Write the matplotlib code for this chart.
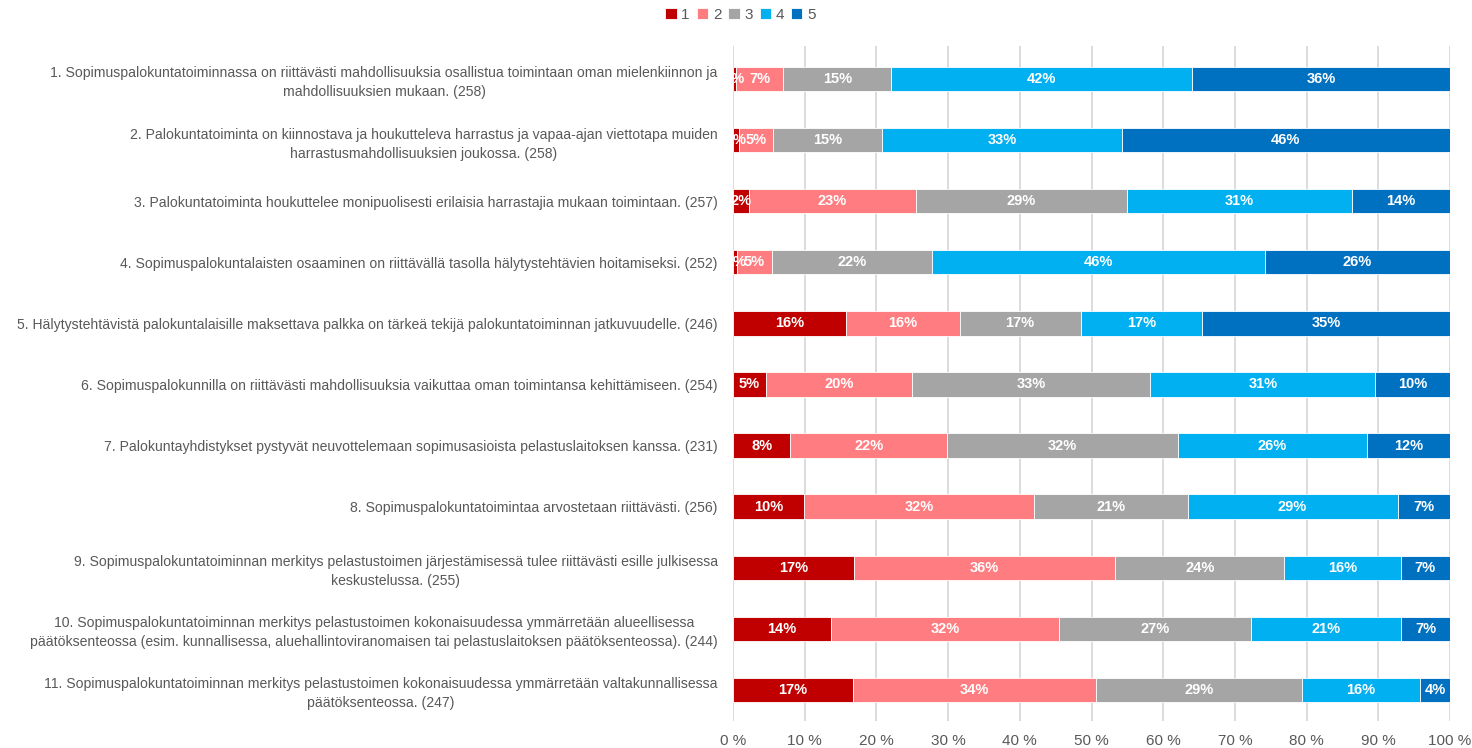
import matplotlib
matplotlib.use("Agg")
import matplotlib.pyplot as plt
import numpy as np

FONT = "Liberation Sans"

categories = [
    "1. Sopimuspalokuntatoiminnassa on riittävästi mahdollisuuksia osallistua toimintaan oman mielenkiinnon ja\nmahdollisuuksien mukaan. (258)",
    "2. Palokuntatoiminta on kiinnostava ja houkutteleva harrastus ja vapaa-ajan viettotapa muiden\nharrastusmahdollisuuksien joukossa. (258)",
    "3. Palokuntatoiminta houkuttelee monipuolisesti erilaisia harrastajia mukaan toimintaan. (257)",
    "4. Sopimuspalokuntalaisten osaaminen on riittävällä tasolla hälytystehtävien hoitamiseksi. (252)",
    "5. Hälytystehtävistä palokuntalaisille maksettava palkka on tärkeä tekijä palokuntatoiminnan jatkuvuudelle. (246)",
    "6. Sopimuspalokunnilla on riittävästi mahdollisuuksia vaikuttaa oman toimintansa kehittämiseen. (254)",
    "7. Palokuntayhdistykset pystyvät neuvottelemaan sopimusasioista pelastuslaitoksen kanssa. (231)",
    "8. Sopimuspalokuntatoimintaa arvostetaan riittävästi. (256)",
    "9. Sopimuspalokuntatoiminnan merkitys pelastustoimen järjestämisessä tulee riittävästi esille julkisessa\nkeskustelussa. (255)",
    "10. Sopimuspalokuntatoiminnan merkitys pelastustoimen kokonaisuudessa ymmärretään alueellisessa\npäätöksenteossa (esim. kunnallisessa, aluehallintoviranomaisen tai pelastuslaitoksen päätöksenteossa). (244)",
    "11. Sopimuspalokuntatoiminnan merkitys pelastustoimen kokonaisuudessa ymmärretään valtakunnallisessa\npäätöksenteossa. (247)",
]

series_names = ["1", "2", "3", "4", "5"]
s1 = [0.4, 0.8, 2.2, 0.6, 15.7, 4.6, 8.0, 9.9, 16.9, 13.7, 16.7]
s2 = [6.6, 4.8, 23.3, 4.8, 15.9, 20.4, 21.9, 32.1, 36.4, 31.7, 33.9]
s3 = [15.1, 15.2, 29.4, 22.4, 16.9, 33.2, 32.1, 21.4, 23.6, 26.9, 28.8]
s4 = [41.9, 33.4, 31.4, 46.4, 16.9, 31.4, 26.4, 29.3, 16.2, 20.9, 16.4]
s5 = [36.0, 45.8, 13.7, 25.8, 34.6, 10.4, 11.6, 7.3, 6.9, 6.8, 4.2]
series = [s1, s2, s3, s4, s5]
colors = ["#C00000", "#FF7C80", "#A5A5A5", "#00B0F0", "#0070C0"]
xticks = [0, 10, 20, 30, 40, 50, 60, 70, 80, 90, 100]

fig = plt.figure(figsize=(14.72, 7.48), dpi=100)
ax = fig.add_axes([733 / 1472, 1 - 720.5 / 748, (1450 - 733) / 1472, (720.5 - 46) / 748])

y = np.arange(len(categories))
left = np.zeros(len(categories))
handles = []
for name, vals, col in zip(series_names, series, colors):
    vals = np.array(vals)
    h = ax.barh(y, vals, left=left, height=0.4, color=col, edgecolor="white",
                linewidth=0.6, label=name, zorder=3)
    handles.append(h)
    for yi, (l, v) in enumerate(zip(left, vals)):
        ax.text(l + v / 2, yi, f"{int(round(v))}%", ha="center", va="center",
                color="white", fontsize=10.5, fontweight="bold",
                family=FONT, zorder=5)
    left = left + vals

ax.set_xlim(0, 100)
ax.set_ylim(len(categories) - 0.5, -0.54)
ax.set_xticks(xticks)
ax.set_xticklabels([f"{t} %" for t in xticks], fontsize=11, color="#595959", family=FONT)
ax.set_yticks(y)
ax.set_yticklabels(categories, fontsize=10.1, color="#595959", family=FONT,
                   multialignment="center", linespacing=1.45)
ax.tick_params(axis="x", length=0, pad=10)
ax.tick_params(axis="y", length=0, pad=11)
ax.xaxis.grid(True, color="#D9D9D9", linewidth=1.3, zorder=0)
ax.set_axisbelow(True)
for sp in ax.spines.values():
    sp.set_visible(False)

fig.legend(handles=handles, labels=series_names, loc="upper center",
           bbox_to_anchor=(0.503, 1.008), ncol=5, frameon=False,
           handlelength=0.75, handleheight=0.75, handletextpad=0.3, columnspacing=0.45,
           prop={"family": FONT, "size": 11}, labelcolor="#595959")

fig.savefig("out.png", dpi=100)
